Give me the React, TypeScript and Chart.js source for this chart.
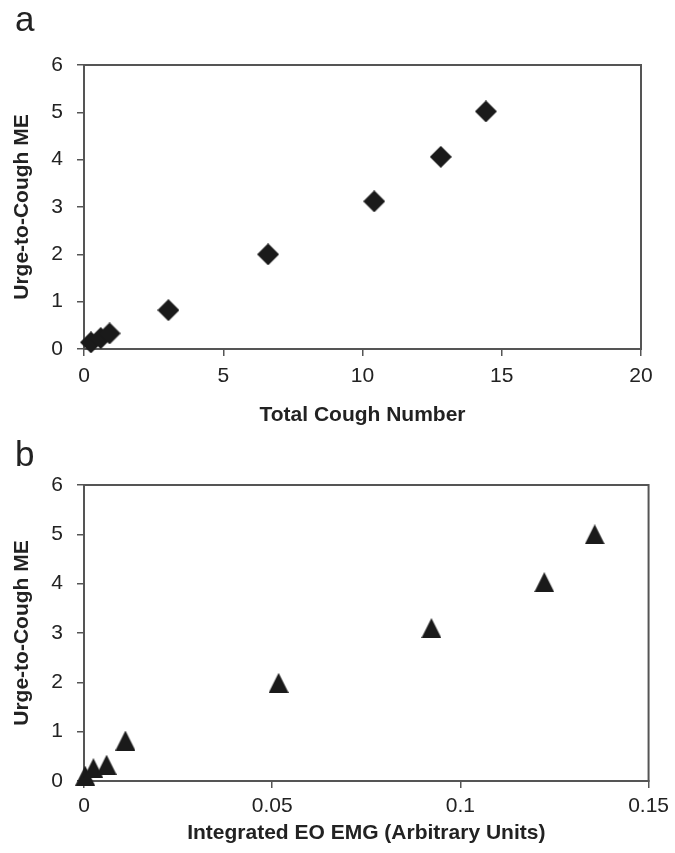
import React, { useEffect, useRef } from "react";
import { Chart, registerables } from "chart.js";

Chart.register(...registerables);

// Panel a: Total cough number vs urge-to-cough ME
const coughNumber = [0.25, 0.6, 0.92, 3.03, 6.61, 10.42, 12.81, 14.43];
const urgeA = [0.14, 0.23, 0.33, 0.82, 2.0, 3.12, 4.06, 5.02];
const xTicksA = [0, 5, 10, 15, 20];

// Panel b: Integrated EO EMG vs urge-to-cough ME
const eoEmg = [0.0003, 0.0025, 0.006, 0.011, 0.0517, 0.0923, 0.1223, 0.1357];
const urgeB = [0.11, 0.26, 0.33, 0.82, 1.99, 3.1, 4.03, 5.0];
const xTicksB = [0, 0.05, 0.1, 0.15];

const yTicks = [0, 1, 2, 3, 4, 5, 6];

const yTitle = "Urge-to-Cough ME";
const xTitleA = "Total Cough Number";
const xTitleB = "Integrated EO EMG (Arbitrary Units)";

const FONT = "'Liberation Sans', Arial, Helvetica, sans-serif";
const AXIS = "#555555";
const TEXT = "#222222";
const MARK = "#1a1a1a";

function makeDiamond(): HTMLCanvasElement {
  const c = document.createElement("canvas");
  c.width = 22;
  c.height = 22;
  const ctx = c.getContext("2d")!;
  ctx.fillStyle = MARK;
  ctx.beginPath();
  ctx.moveTo(11, 0);
  ctx.lineTo(22, 11);
  ctx.lineTo(11, 22);
  ctx.lineTo(0, 11);
  ctx.closePath();
  ctx.fill();
  return c;
}

function makeTriangle(): HTMLCanvasElement {
  const c = document.createElement("canvas");
  c.width = 20;
  c.height = 20;
  const ctx = c.getContext("2d")!;
  ctx.fillStyle = MARK;
  ctx.beginPath();
  ctx.moveTo(10, 0);
  ctx.lineTo(20, 20);
  ctx.lineTo(0, 20);
  ctx.closePath();
  ctx.fill();
  return c;
}

const framePlugin = {
  id: "frame",
  beforeDatasetsDraw(chart: any) {
    const { ctx, chartArea } = chart;
    ctx.save();
    ctx.strokeStyle = AXIS;
    ctx.lineWidth = 2;
    ctx.strokeRect(chartArea.left, chartArea.top, chartArea.right - chartArea.left, chartArea.bottom - chartArea.top);
    ctx.restore();
  },
};

function buildConfig(opts: {
  xs: number[];
  ys: number[];
  xTicks: number[];
  xTitle: string;
  style: HTMLCanvasElement;
  height: number;
  top: number;
  bottom: number;
  right: number;
  titlePad: number;
  tickPad: number;
}) {
  const data = opts.xs.map((x, i) => ({ x, y: opts.ys[i] }));
  const gridCommon = {
    display: true,
    drawOnChartArea: false,
    drawTicks: true,
    tickLength: 7,
    color: AXIS,
    lineWidth: 1.5,
  };
  return {
    type: "scatter" as const,
    data: {
      datasets: [
        {
          data,
          pointStyle: opts.style,
          backgroundColor: MARK,
          borderColor: MARK,
          clip: false,
        },
      ],
    },
    plugins: [framePlugin],
    options: {
      responsive: false,
      animation: false,
      devicePixelRatio: 1,
      layout: { padding: { left: 0, right: opts.right, top: opts.top, bottom: 0 } },
      plugins: { legend: { display: false }, tooltip: { enabled: false } },
      scales: {
        x: {
          type: "linear",
          min: opts.xTicks[0],
          max: opts.xTicks[opts.xTicks.length - 1],
          afterBuildTicks: (s: any) => {
            s.ticks = opts.xTicks.map((v) => ({ value: v }));
          },
          afterFit: (s: any) => {
            s.height = opts.height - opts.bottom;
          },
          border: { display: true, color: AXIS, width: 2 },
          grid: gridCommon,
          ticks: {
            padding: opts.tickPad,
            color: TEXT,
            maxRotation: 0,
            font: { family: FONT, size: 21 },
            callback: (v: any) => String(+Number(v).toFixed(4)),
          },
          title: {
            display: true,
            text: opts.xTitle,
            color: TEXT,
            font: { family: FONT, size: 21, weight: "bold" },
            padding: { top: 0, bottom: opts.titlePad },
          },
        },
        y: {
          type: "linear",
          min: 0,
          max: 6,
          afterBuildTicks: (s: any) => {
            s.ticks = yTicks.map((v) => ({ value: v }));
          },
          afterFit: (s: any) => {
            s.width = 84;
          },
          border: { display: true, color: AXIS, width: 2 },
          grid: gridCommon,
          ticks: {
            padding: 14,
            color: TEXT,
            font: { family: FONT, size: 21 },
          },
          title: {
            display: true,
            text: yTitle,
            color: TEXT,
            font: { family: FONT, size: 21, weight: "bold" },
            padding: { top: 10, bottom: 0 },
          },
        },
      },
    },
  };
}

function Panel(props: {
  top: number;
  height: number;
  xs: number[];
  ys: number[];
  xTicks: number[];
  xTitle: string;
  marker: "diamond" | "triangle";
  areaTop: number;
  areaBottom: number;
  right: number;
  titlePad: number;
  tickPad: number;
}) {
  const ref = useRef<HTMLCanvasElement | null>(null);
  useEffect(() => {
    if (!ref.current) return;
    const style = props.marker === "diamond" ? makeDiamond() : makeTriangle();
    const cfg: any = buildConfig({
      xs: props.xs,
      ys: props.ys,
      xTicks: props.xTicks,
      xTitle: props.xTitle,
      style,
      height: props.height,
      top: props.areaTop,
      bottom: props.areaBottom,
      right: props.right,
      titlePad: props.titlePad,
      tickPad: props.tickPad,
    });
    const chart = new Chart(ref.current, cfg);
    return () => chart.destroy();
  }, []);
  return (
    <canvas
      ref={ref}
      width={675}
      height={props.height}
      style={{ position: "absolute", left: 0, top: props.top, width: 675, height: props.height, display: "block" }}
    />
  );
}

const letterStyle: React.CSSProperties = {
  position: "absolute",
  left: 15,
  fontFamily: FONT,
  fontSize: 35,
  lineHeight: "35px",
  color: TEXT,
};

export default function App() {
  return (
    <div style={{ position: "fixed", left: 0, top: 0, width: 675, height: 853, background: "#ffffff", overflow: "hidden" }}>
      <Panel
        top={0}
        height={435}
        xs={coughNumber}
        ys={urgeA}
        xTicks={xTicksA}
        xTitle={xTitleA}
        marker="diamond"
        areaTop={65}
        areaBottom={349}
        right={34}
        titlePad={7}
        tickPad={8}
      />
      <Panel
        top={435}
        height={418}
        xs={eoEmg}
        ys={urgeB}
        xTicks={xTicksB}
        xTitle={xTitleB}
        marker="triangle"
        areaTop={50}
        areaBottom={346}
        right={24}
        titlePad={7}
        tickPad={6}
      />
      <div style={{ ...letterStyle, top: 1 }}>a</div>
      <div style={{ ...letterStyle, top: 436 }}>b</div>
    </div>
  );
}
